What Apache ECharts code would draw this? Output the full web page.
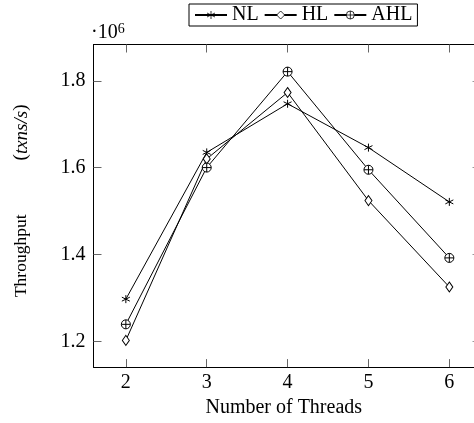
<!DOCTYPE html>
<html>
<head>
<meta charset="utf-8">
<script src="https://cdn.jsdelivr.net/npm/echarts@6/dist/echarts.min.js"></script>
<style>html,body{margin:0;padding:0;background:#fff}#c{width:474px;height:423px}</style>
</head>
<body>
<div id="c"></div>
<script>
var threads = [2, 3, 4, 5, 6];
var xTicks = [2, 3, 4, 5, 6];
var yTicks = [1.2, 1.4, 1.6, 1.8];
var seriesNames = ['NL', 'HL', 'AHL'];
var NL  = [1.297, 1.635, 1.747, 1.646, 1.521];
var HL  = [1.202, 1.620, 1.773, 1.524, 1.325];
var AHL = [1.239, 1.600, 1.821, 1.595, 1.392];
var yScaleLabel = '·10';
var yScaleExp = '6';
var xTitle = 'Number of Threads';
var yTitleMain = 'Throughput';
var yTitleUnit = 'txns/s';

var FONT = '"Liberation Serif", "Times New Roman", serif';
var xMin = 1.6, xMax = 6.305, yMin = 1.1405, yMax = 1.8835;

var symAst = 'path://M5,0L5,10M0.67,2.5L9.33,7.5M0.67,7.5L9.33,2.5';
var symOplus = 'path://M10,5A5,5,0,1,1,0,5A5,5,0,1,1,10,5ZM5,0L5,10M0,5L10,5';

function pairs(v){ return threads.map(function(t,i){ return [t, v[i]]; }); }
function mk(name, data, sym, size){
  return {
    name: name, type: 'line', data: pairs(data),
    symbol: sym, symbolSize: size, showSymbol: true,
    lineStyle: {color: '#000', width: 1},
    itemStyle: {color: '#fff', borderColor: '#000', borderWidth: 1},
    emphasis: {disabled: true}
  };
}

var chart = echarts.init(document.getElementById('c'), null, {renderer: 'canvas'});
chart.setOption({
  animation: false,
  backgroundColor: '#fff',
  textStyle: {fontFamily: FONT, color: '#000'},
  grid: {left: 93.5, right: 0, top: 44.5, bottom: 55.7, containLabel: false},
  legend: {
    data: seriesNames,
    left: 189, top: 4,
    padding: [1, 5, 1, 5],
    itemGap: 5, itemWidth: 32, itemHeight: 10,
    borderColor: '#000', borderWidth: 1,
    itemStyle: {color: '#fff', borderColor: '#000', borderWidth: 0.8},
    textStyle: {fontFamily: FONT, fontSize: 20, color: '#000', lineHeight: 20}
  },
  graphic: [{
    type: 'text', left: 91, top: 22,
    style: {
      text: yScaleLabel + '{s|' + yScaleExp + '}',
      font: '20px ' + FONT, fill: '#000',
      rich: {s: {fontSize: 14, fontFamily: FONT, verticalAlign: 'top', padding: [0,0,8,0]}}
    }
  }],
  xAxis: [{
    type: 'value', min: xMin, max: xMax, position: 'bottom',
    name: xTitle, nameLocation: 'middle', nameGap: 30,
    nameTextStyle: {fontFamily: FONT, fontSize: 20, color: '#000'},
    axisLine: {show: true, lineStyle: {color: '#000', width: 1}},
    axisTick: {show: true, inside: true, length: 8, customValues: xTicks, lineStyle: {color: '#666', width: 1}},
    axisLabel: {show: true, margin: 6, customValues: xTicks, fontFamily: FONT, fontSize: 20, color: '#000'},
    splitLine: {show: false}
  }, {
    type: 'value', min: xMin, max: xMax, position: 'top',
    axisLine: {show: true, lineStyle: {color: '#000', width: 1}},
    axisTick: {show: true, inside: true, length: 8, customValues: xTicks, lineStyle: {color: '#666', width: 1}},
    axisLabel: {show: false},
    splitLine: {show: false}
  }],
  yAxis: [{
    type: 'value', min: yMin, max: yMax, position: 'left',
    name: '{g2| }{r|' + yTitleMain + '}{g| }{u|(}{i|' + yTitleUnit + '}{u|)}',
    nameLocation: 'middle', nameGap: 62, nameRotate: 90,
    nameTextStyle: {
      fontFamily: FONT, fontSize: 20, color: '#000',
      rich: {
        r: {fontFamily: FONT, fontSize: 17.5, color: '#000'},
        u: {fontFamily: FONT, fontSize: 19, color: '#000'},
        i: {fontFamily: FONT, fontSize: 19, fontStyle: 'italic', color: '#000'},
        g: {width: 54},
        g2: {width: 10}
      }
    },
    axisLine: {show: true, lineStyle: {color: '#000', width: 1}},
    axisTick: {show: true, inside: true, length: 8, customValues: yTicks, lineStyle: {color: '#666', width: 1}},
    axisLabel: {show: true, margin: 8, customValues: yTicks, fontFamily: FONT, fontSize: 20, color: '#000',
      formatter: function(v){ return v.toFixed(1); }},
    splitLine: {show: false}
  }, {
    type: 'value', min: yMin, max: yMax, position: 'right',
    axisLine: {show: false},
    axisTick: {show: true, inside: true, length: 1.5, customValues: yTicks, lineStyle: {color: '#999', width: 1}},
    axisLabel: {show: false},
    splitLine: {show: false}
  }],
  series: [
    mk('NL', NL, symAst, 8),
    mk('HL', HL, 'diamond', [7, 10]),
    mk('AHL', AHL, symOplus, 9)
  ]
});
</script>
</body>
</html>
